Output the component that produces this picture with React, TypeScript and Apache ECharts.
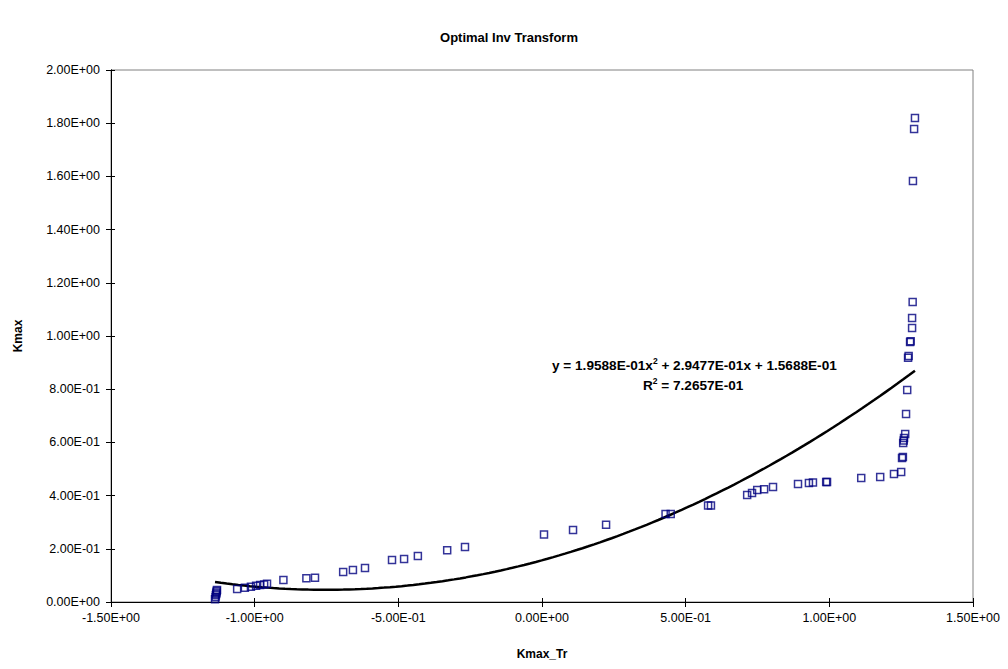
import React, { useEffect, useRef } from "react";
import * as echarts from "echarts";

// Kmax_Tr (x) against Kmax (y)
const kmaxTr: number[] = [
  -1.138, -1.136, -1.135, -1.134, -1.133, -1.132, -1.131,
  -1.061, -1.034, -1.013, -0.995, -0.981, -0.967, -0.957,
  -0.9, -0.82, -0.79, -0.692, -0.658, -0.616, -0.522, -0.48, -0.432,
  -0.33, -0.268, 0.007, 0.108, 0.223, 0.43, 0.448,
  0.578, 0.588, 0.714, 0.731, 0.749, 0.773, 0.804, 0.891, 0.929, 0.943, 0.989, 0.992,
  1.111, 1.177, 1.225, 1.25, 1.253, 1.256, 1.257, 1.259, 1.26, 1.264,
  1.267, 1.271, 1.274, 1.276, 1.281, 1.283, 1.288, 1.288, 1.29, 1.291, 1.295, 1.298,
];
const kmax: number[] = [
  0.01, 0.018, 0.025, 0.031, 0.036, 0.041, 0.045,
  0.049, 0.054, 0.057, 0.061, 0.064, 0.066, 0.069,
  0.083, 0.089, 0.091, 0.113, 0.12, 0.128, 0.158, 0.162, 0.173,
  0.195, 0.207, 0.254, 0.271, 0.29, 0.331, 0.331,
  0.363, 0.363, 0.402, 0.41, 0.421, 0.424, 0.432, 0.444, 0.447, 0.449, 0.451, 0.451,
  0.466, 0.47, 0.481, 0.489, 0.541, 0.545, 0.598, 0.607, 0.617, 0.632,
  0.707, 0.797, 0.918, 0.925, 0.977, 0.98, 1.03, 1.068, 1.128, 1.583, 1.778, 1.82,
];

// Polynomial trendline (order 2) as reported in the chart label
const trendCoef: number[] = [0.19588, 0.29477, 0.15688];
const trendR2 = 0.72657;

const xTicks = { min: -1.5, max: 1.5, interval: 0.5 };
const yTicks = { min: 0, max: 2, interval: 0.2 };

function sci(v: number, digits = 2): string {
  const s = v.toExponential(digits);
  const [m, e] = s.split("e");
  const n = parseInt(e, 10);
  const sign = n < 0 ? "-" : "+";
  const abs = Math.abs(n);
  return `${m}E${sign}${abs < 10 ? "0" + abs : abs}`;
}

export default function App() {
  const ref = useRef<HTMLDivElement>(null);

  useEffect(() => {
    document.body.style.margin = "0";
    if (!ref.current) return;
    const chart = echarts.init(ref.current, null, { renderer: "svg" });

    const xMin = Math.min(...kmaxTr);
    const xMax = Math.max(...kmaxTr);
    const trend: number[][] = [];
    const steps = 120;
    for (let i = 0; i <= steps; i++) {
      const x = xMin + ((xMax - xMin) * i) / steps;
      trend.push([x, trendCoef[0] * x * x + trendCoef[1] * x + trendCoef[2]]);
    }

    const font = "'Liberation Sans', Arial, sans-serif";
    const eqText =
      `{b|y = ${sci(trendCoef[0], 4)}x}{s|2}{b| + ${sci(trendCoef[1], 4)}x + ${sci(trendCoef[2], 4)}}`;
    const r2Text = `{b|R}{s|2}{b| = ${sci(trendR2, 4)}}`;
    const rich = {
      b: { font: `bold 13.6px ${font}`, fill: "#000", lineHeight: 16, verticalAlign: "bottom" },
      s: { font: `bold 8.5px ${font}`, fill: "#000", lineHeight: 16, verticalAlign: "top" },
    };

    const baseX = {
      type: "value" as const,
      min: xTicks.min,
      max: xTicks.max,
      interval: xTicks.interval,
      splitLine: { show: false },
      axisLine: { show: true, onZero: false, lineStyle: { color: "#000", width: 1 } },
    };
    const baseY = {
      type: "value" as const,
      min: yTicks.min,
      max: yTicks.max,
      interval: yTicks.interval,
      splitLine: { show: false },
      axisLine: { show: true, onZero: false, lineStyle: { color: "#000", width: 1 } },
    };

    chart.setOption({
      animation: false,
      backgroundColor: "#fff",
      textStyle: { fontFamily: font },
      title: {
        text: "Optimal Inv Transform",
        left: 504,
        textAlign: "center",
        top: 26,
        textStyle: { fontFamily: font, fontSize: 13, fontWeight: "bold", color: "#000" },
      },
      grid: {
        left: 111,
        top: 70,
        width: 862,
        height: 532,
        show: true,
        borderColor: "#808080",
        borderWidth: 1,
        backgroundColor: "transparent",
      },
      xAxis: [
        {
          ...baseX,
          position: "bottom",
          name: "Kmax_Tr",
          nameLocation: "middle",
          nameGap: 46,
          nameTextStyle: { fontFamily: font, fontSize: 12, fontWeight: "bold", color: "#000" },
          axisTick: { show: true, inside: false, length: 5, lineStyle: { color: "#000" } },
          axisLabel: {
            formatter: (v: number) => sci(v),
            fontFamily: font,
            fontSize: 12.5,
            color: "#000",
            margin: 9,
          },
        },
        {
          ...baseX,
          position: "bottom",
          axisTick: { show: true, inside: true, length: 4, lineStyle: { color: "#000" } },
          axisLabel: { show: false },
        },
      ],
      yAxis: [
        {
          ...baseY,
          position: "left",
          name: "Kmax",
          nameLocation: "middle",
          nameGap: 87,
          nameRotate: 90,
          nameTextStyle: { fontFamily: font, fontSize: 12, fontWeight: "bold", color: "#000" },
          axisTick: { show: true, inside: false, length: 5, lineStyle: { color: "#000" } },
          axisLabel: {
            formatter: (v: number) => sci(v),
            fontFamily: font,
            fontSize: 12.5,
            color: "#000",
            margin: 11,
          },
        },
        {
          ...baseY,
          position: "left",
          axisTick: { show: true, inside: true, length: 4, lineStyle: { color: "#000" } },
          axisLabel: { show: false },
        },
      ],
      series: [
        {
          type: "line",
          data: trend,
          showSymbol: false,
          symbol: "none",
          smooth: false,
          lineStyle: { color: "#000", width: 2.5 },
          z: 3,
        },
        {
          type: "scatter",
          data: kmaxTr.map((x, i) => [x, kmax[i]]),
          symbol: "rect",
          symbolSize: 7,
          itemStyle: { color: "rgba(0,0,0,0)", borderColor: "#000080", borderWidth: 1.5 },
          z: 4,
        },
      ],
      graphic: [
        {
          type: "text",
          left: 552,
          top: 356,
          style: { text: eqText, rich },
        },
        {
          type: "text",
          left: 643,
          top: 376,
          style: { text: r2Text, rich },
        },
      ],
    });

    return () => chart.dispose();
  }, []);

  return <div ref={ref} style={{ width: 1008, height: 669 }} />;
}
